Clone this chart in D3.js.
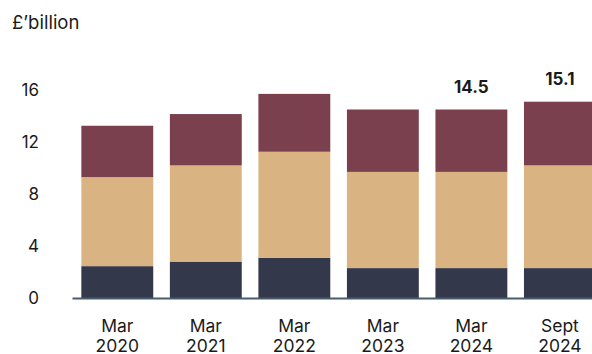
<!DOCTYPE html>
<html><head><meta charset="utf-8">
<script src="https://cdn.jsdelivr.net/npm/d3@7"></script>
<style>body{margin:0;background:#fff}svg{display:block}text{font-family:Inter,"Noto Sans",sans-serif}</style>
</head><body><div id="c"></div>
<script>
const categories = [["Mar","2020"],["Mar","2021"],["Mar","2022"],["Mar","2023"],["Mar","2024"],["Sept","2024"]];
const bottomSeries = [2.45, 2.8, 3.1, 2.3, 2.3, 2.3];
const middleSeries = [6.85, 7.4, 8.15, 7.4, 7.4, 7.9];
const topSeries = [3.95, 3.95, 4.45, 4.8, 4.8, 4.9];
const totalLabels = [null, null, null, null, "14.5", "15.1"];
const yTicks = [0, 4, 8, 12, 16];
const colors = ["#33384b", "#dab382", "#7a404e"];

const W = 592, H = 354;
const svg = d3.select("#c").append("svg").attr("width", W).attr("height", H);
const keys = categories.map(d => d.join(" "));
const x = d3.scaleBand().domain(keys).range([72.5, 604.7]).paddingInner(0.188).paddingOuter(0.1);
const y = d3.scaleLinear().domain([0, 16]).range([298, 90]);

const rows = keys.map((k, i) => ({key: k, b: bottomSeries[i], m: middleSeries[i], t: topSeries[i]}));
const stack = d3.stack().keys(["b", "m", "t"])(rows);

svg.append("g").selectAll("g").data(stack).join("g").attr("fill", (d, i) => colors[i])
  .selectAll("rect").data(d => d).join("rect")
  .attr("x", d => x(d.data.key)).attr("width", x.bandwidth())
  .attr("y", d => y(d[1])).attr("height", d => y(d[0]) - y(d[1]));

svg.append("line").attr("x1", 72.5).attr("x2", W).attr("y1", y(0) + 0.5).attr("y2", y(0) + 0.5)
  .attr("stroke", "#4b5b6e").attr("stroke-width", 2);

svg.append("g").selectAll("text").data(yTicks).join("text")
  .attr("x", 39).attr("y", d => y(d)).attr("dy", "0.35em").attr("text-anchor", "end")
  .attr("font-size", 17).attr("fill", "#1a1a1a").text(d => d);

const xl = svg.append("g").selectAll("text").data(categories).join("text")
  .attr("text-anchor", "middle").attr("font-size", 17.5).attr("fill", "#1a1a1a")
  .attr("transform", (d, i) => `translate(${x(keys[i]) + x.bandwidth() / 2},0)`);
xl.append("tspan").attr("x", 0).attr("y", 331.5).text(d => d[0]);
xl.append("tspan").attr("x", 0).attr("y", 351.5).text(d => d[1]);

svg.append("g").selectAll("text").data(rows.filter((d, i) => totalLabels[i]))
  .join("text")
  .attr("x", d => x(d.key) + x.bandwidth() / 2)
  .attr("y", d => y(d.b + d.m + d.t) - 17)
  .attr("text-anchor", "middle").attr("font-size", 17).attr("font-weight", 700).attr("fill", "#1a1a1a")
  .text(d => totalLabels[rows.indexOf(d)]);

svg.append("text").attr("x", 12).attr("y", 29).attr("font-size", 18.5).attr("fill", "#1a1a1a").text("£’billion");
</script></body></html>
